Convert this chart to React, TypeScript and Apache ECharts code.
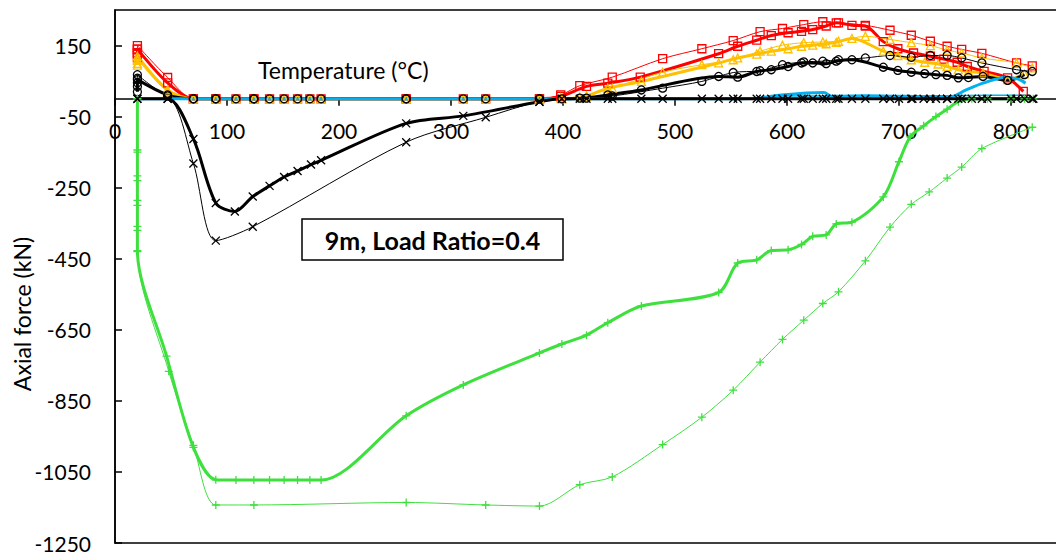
import React, { useEffect, useRef } from "react";
import * as echarts from "echarts";

type Pt = [number, number];

// Temperature (°C) / axial force (kN) pairs for each column model
const redThick: Pt[] = [
  [20, 115], [20, 130], [20, 140], [47, 45], [70, 0], [90, 0], [108, 0], [124, 0], [138, 0], [151, 0],
  [163, 0], [174, 0], [184, 0], [260, 0], [311, 0], [379, 0], [398, 7], [421, 35], [440, 44], [469, 61],
  [539, 127], [556, 148], [573, 165], [586, 178], [601, 186], [613, 190], [623, 195], [635, 205],
  [644, 214], [658, 207], [670, 205], [686, 161], [699, 141], [713, 129], [728, 120], [740, 112],
  [752, 103], [761, 91], [776, 77], [797, 59], [811, 21],
];
const redThin: Pt[] = [
  [20, 125], [20, 140], [20, 150], [47, 60], [70, 0], [90, 0], [124, 0], [260, 0], [331, 0], [379, 0],
  [398, 11], [415, 37], [444, 61], [489, 113], [524, 141], [552, 164], [576, 189], [596, 198],
  [615, 209], [632, 217], [646, 214], [670, 207], [692, 193], [711, 179], [728, 162], [743, 148],
  [756, 139], [774, 128], [805, 101], [819, 93],
];
const orangeThick: Pt[] = [
  [20, 95], [20, 108], [20, 120], [47, 25], [70, 0], [90, 0], [108, 0], [124, 0], [138, 0], [151, 0],
  [163, 0], [174, 0], [184, 0], [260, 0], [311, 0], [379, 0], [399, 0], [421, 8], [440, 30], [470, 49],
  [539, 101], [556, 115], [573, 126], [586, 134], [601, 141], [613, 148], [623, 151], [635, 155],
  [644, 159], [658, 170], [686, 134], [699, 122], [711, 110], [723, 103], [735, 98], [743, 91],
  [753, 82], [762, 77], [775, 73], [797, 54], [812, 70],
];
const orangeThin: Pt[] = [
  [20, 100], [20, 112], [47, 20], [70, 0], [90, 0], [124, 0], [260, 0], [331, 0], [379, 0], [398, 3],
  [415, 5], [444, 30], [489, 75], [524, 96], [552, 110], [576, 134], [596, 151], [615, 158],
  [632, 160], [646, 162], [670, 176], [692, 167], [711, 158], [728, 150], [743, 137], [756, 129],
  [774, 115], [805, 101], [819, 87],
];
const circleThick: Pt[] = [
  [20, 20], [20, 35], [20, 54], [47, 11], [70, 0], [90, 0], [108, 0], [124, 0], [138, 0], [151, 0],
  [163, 0], [174, 0], [184, 0], [260, 0], [311, 0], [379, 0], [399, 0], [421, 2], [440, 11], [470, 25],
  [539, 63], [556, 61], [573, 77], [586, 82], [601, 91], [613, 101], [623, 101], [635, 99], [644, 106],
  [658, 110], [686, 89], [699, 80], [711, 75], [723, 71], [733, 68], [743, 66], [753, 59], [762, 60],
  [775, 63], [797, 52], [812, 68],
];
const circleThin: Pt[] = [
  [20, 45], [20, 58], [20, 68], [47, 8], [70, 0], [90, 0], [124, 0], [260, 0], [331, 0], [379, 0],
  [415, 2], [444, 8], [489, 30], [524, 49], [552, 74], [576, 79], [596, 96], [615, 104], [632, 106],
  [646, 110], [670, 115], [692, 122], [711, 117], [728, 122], [743, 122], [756, 115], [774, 101],
  [805, 82], [819, 77],
];
const blueThick: Pt[] = [
  [20, 0], [47, 0], [379, 0], [560, 0], [575, 2], [595, 11], [633, 18], [640, 7], [670, 9], [745, 5],
  [760, 25], [775, 44], [795, 61], [807, 55], [813, 44],
];
const blueThin: Pt[] = [
  [20, 0], [47, 0], [379, 0], [560, 0], [600, 8], [700, 8], [780, 10], [815, 10],
];
const greenThick: Pt[] = [
  [20, 0], [20, -144], [20, -217], [20, -286], [20, -359], [20, -427], [46, -724], [70, -981],
  [90, -1072], [108, -1073], [124, -1073], [138, -1073], [151, -1073], [163, -1073], [174, -1073],
  [184, -1073], [260, -892], [311, -805], [379, -715], [399, -690], [421, -665], [440, -630],
  [470, -583], [539, -545], [556, -462], [573, -453], [586, -427], [601, -425], [613, -410],
  [623, -387], [635, -383], [644, -352], [658, -347], [686, -276], [700, -177], [710, -107],
  [722, -76], [733, -50], [743, -29], [753, -8], [765, 0], [779, 0], [800, 0], [812, 0], [820, 0],
];
const greenThin: Pt[] = [
  [20, 0], [20, -150], [20, -230], [20, -300], [20, -370], [20, -430], [48, -767], [70, -975],
  [90, -1143], [124, -1143], [260, -1136], [331, -1143], [379, -1146], [415, -1086], [444, -1064],
  [489, -973], [524, -896], [552, -820], [576, -741], [596, -677], [615, -623], [632, -576],
  [646, -543], [670, -456], [692, -361], [711, -297], [727, -262], [743, -223], [756, -192],
  [774, -140], [819, -80],
];
const crossThick: Pt[] = [
  [20, 0], [47, 0], [70, -113], [90, -293], [107, -317], [123, -275], [138, -245], [151, -220],
  [163, -203], [175, -185], [184, -173], [260, -69], [311, -48], [379, -8], [399, 0], [421, 0],
  [440, 0], [470, 0], [539, 0], [556, 0], [573, 0], [586, 0], [601, 0], [613, 0], [623, 0], [635, 0],
  [644, 0], [658, 0], [686, 0], [700, 0], [712, 0], [722, 0], [733, 0], [743, 0], [753, 0], [765, 0],
  [779, 0], [800, 0], [812, 0], [820, 0],
];
const crossThin: Pt[] = [
  [20, 0], [47, 0], [70, -182], [90, -399], [123, -360], [260, -122], [331, -52], [379, -8],
  [415, 0], [444, 0], [489, 0], [524, 0], [552, 0], [576, 0], [596, 0], [615, 0], [632, 0], [646, 0],
  [670, 0], [692, 0], [711, 0], [728, 0], [743, 0], [756, 0], [774, 0], [805, 0], [819, 0],
];

const xTicks = [0, 100, 200, 300, 400, 500, 600, 700, 800];
const yTicks = [-1250, -1050, -850, -650, -450, -250, -50, 150];

const RED = "#FF0000";
const ORANGE = "#FFC000";
const BLACK = "#000000";
const GREEN = "#3EE03E";
const BLUE = "#00B0F0";

const X_MARK = "path://M0,0L10,10M0,10L10,0";
const PLUS_MARK = "path://M5,0L5,10M0,5L10,5";
const FONT = "Lato";

// Plot box and axis ranges
const W = 1056;
const H = 556;
const GRID = { left: 115, top: 10, right: -2, bottom: 13 };
const X_MIN = 0;
const X_MAX = 842;
const Y_MIN = -1250;
const Y_MAX = 250;

function line(name: string, data: Pt[], color: string, width: number, symbol: string, size: number) {
  return {
    name,
    type: "line",
    data,
    smooth: 0.3,
    symbol,
    symbolSize: size,
    showSymbol: symbol !== "none",
    lineStyle: { color, width },
    itemStyle: { color: "rgba(0,0,0,0)", borderColor: color, borderWidth: 1.3 },
    emphasis: { disabled: true },
  };
}

export default function App() {
  const ref = useRef<HTMLDivElement>(null);

  useEffect(() => {
    const chart = echarts.init(ref.current!, null, { renderer: "svg" });
    // the temperature axis crosses the force axis at zero
    const plotH = H - GRID.top - GRID.bottom;
    const zeroFromBottom = ((0 - Y_MIN) / (Y_MAX - Y_MIN)) * plotH;

    chart.setOption({
      animation: false,
      backgroundColor: "#ffffff",
      grid: {
        ...GRID,
        containLabel: false,
        outerBoundsMode: "none",
        show: true,
        borderColor: BLACK,
        borderWidth: 1.5,
      },
      xAxis: {
        type: "value",
        min: X_MIN,
        max: X_MAX,
        offset: -zeroFromBottom,
        axisLine: { show: true, onZero: false, lineStyle: { color: BLACK, width: 1.5 } },
        axisTick: { show: true, inside: false, length: 7, customValues: xTicks, lineStyle: { color: BLACK, width: 1.5 } },
        axisLabel: {
          customValues: xTicks,
          margin: 21,
          fontFamily: FONT,
          fontSize: 21,
          color: BLACK,
          formatter: (v: number) => String(v),
        },
        splitLine: { show: false },
      },
      yAxis: {
        type: "value",
        min: Y_MIN,
        max: Y_MAX,
        axisLine: { show: true, onZero: false, lineStyle: { color: BLACK, width: 1.5 } },
        axisTick: { show: true, inside: true, length: 7, customValues: yTicks, lineStyle: { color: BLACK, width: 1.5 } },
        axisLabel: {
          customValues: yTicks,
          margin: 24,
          fontFamily: FONT,
          fontSize: 21,
          color: BLACK,
          formatter: (v: number) => String(v),
        },
        splitLine: { show: false },
      },
      series: [
        line("Red thin", redThin, RED, 1, "rect", 8),
        line("Red thick", redThick, RED, 3, "rect", 8),
        line("Orange thin", orangeThin, ORANGE, 1, "triangle", 8),
        line("Orange thick", orangeThick, ORANGE, 3, "triangle", 8),
        line("Circle thin", circleThin, BLACK, 1, "circle", 8),
        line("Circle thick", circleThick, BLACK, 3, "circle", 8),
        line("Blue thin", blueThin, BLUE, 1.5, "none", 0),
        line("Blue thick", blueThick, BLUE, 3, "none", 0),
        line("Green thin", greenThin, GREEN, 1, PLUS_MARK, 8),
        line("Green thick", greenThick, GREEN, 3, PLUS_MARK, 8),
        line("Cross thin", crossThin, BLACK, 1, X_MARK, 8),
        line("Cross thick", crossThick, BLACK, 3, X_MARK, 8),
      ],
      graphic: [
        {
          type: "text",
          x: 258,
          y: 70,
          style: {
            text: "Temperature (\u00B0C)",
            fontFamily: FONT,
            fontSize: 23,
            fill: BLACK,
            verticalAlign: "middle",
          },
        },
        {
          type: "text",
          x: 22,
          y: 314,
          rotation: Math.PI / 2,
          style: {
            text: "Axial force (kN)",
            fontFamily: FONT,
            fontSize: 23,
            fill: BLACK,
            align: "center",
            verticalAlign: "middle",
          },
        },
        {
          type: "group",
          z: 100,
          children: [
            {
              type: "rect",
              shape: { x: 302, y: 219, width: 261, height: 41 },
              style: { fill: "#ffffff", stroke: BLACK, lineWidth: 1.5 },
            },
            {
              type: "text",
              x: 432.5,
              y: 240,
              style: {
                text: "9m, Load Ratio=0.4",
                fontFamily: FONT,
                fontSize: 25,
                fontWeight: "bold",
                fill: BLACK,
                align: "center",
                verticalAlign: "middle",
              },
            },
          ],
        },
      ],
    });
    return () => chart.dispose();
  }, []);

  return (
    <div
      ref={ref}
      style={{ position: "absolute", left: 0, top: 0, width: W, height: H }}
    />
  );
}
